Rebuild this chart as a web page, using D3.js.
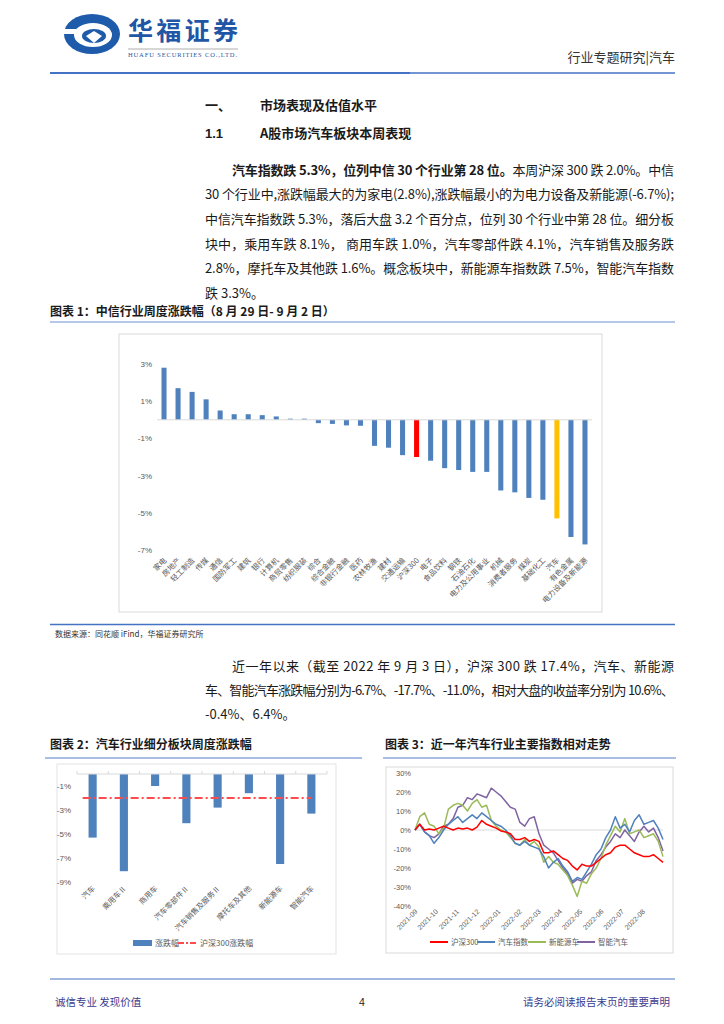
<!DOCTYPE html>
<html><head><meta charset="utf-8">
<script src="https://cdn.jsdelivr.net/npm/d3@7"></script>
<style>
html,body{margin:0;padding:0;background:#fff;}
svg{display:block;font-family:"Liberation Sans","Noto Sans CJK SC",sans-serif;}
</style></head>
<body>
<svg id="page" width="724" height="1024"></svg>
<script>
// ---------- DATA ----------
const industries = ["家电","房地产","轻工制造","传媒","通信","国防军工","建筑","银行","计算机","商贸零售","纺织服装","综合","综合金融","非银行金融","医药","农林牧渔","建材","交通运输","沪深300","电子","食品饮料","钢铁","石油石化","电力及公用事业","机械","消费者服务","煤炭","基础化工","汽车","有色金属","电力设备及新能源"];
const industryChanges = [2.8,1.7,1.5,1.1,0.5,0.3,0.3,0.25,0.18,0.06,0.06,-0.18,-0.22,-0.3,-0.32,-1.4,-1.5,-1.9,-2.0,-2.2,-2.6,-2.7,-2.8,-2.8,-3.8,-3.9,-4.2,-4.3,-5.3,-6.3,-6.7];
const industryTicks = [3,1,-1,-3,-5,-7];

const subsectors = ["汽车","乘用车Ⅱ","商用车","汽车零部件Ⅱ","汽车销售及服务Ⅱ","摩托车及其他","新能源车","智能汽车"];
const subsectorChanges = [-5.3,-8.1,-1.0,-4.1,-2.8,-1.6,-7.5,-3.3];
const hs300WeekChange = -2.0;
const subsectorTicks = [-1,-3,-5,-7,-9];

const weekDates = ["2021-09-03","2021-09-10","2021-09-17","2021-09-24","2021-10-01","2021-10-08","2021-10-15","2021-10-22","2021-10-29","2021-11-05","2021-11-12","2021-11-19","2021-11-26","2021-12-03","2021-12-10","2021-12-17","2021-12-24","2021-12-31","2022-01-07","2022-01-14","2022-01-21","2022-01-28","2022-02-04","2022-02-11","2022-02-18","2022-02-25","2022-03-04","2022-03-11","2022-03-18","2022-03-25","2022-04-01","2022-04-08","2022-04-15","2022-04-22","2022-04-29","2022-05-06","2022-05-13","2022-05-20","2022-05-27","2022-06-03","2022-06-10","2022-06-17","2022-06-24","2022-07-01","2022-07-08","2022-07-15","2022-07-22","2022-07-29","2022-08-05","2022-08-12","2022-08-19","2022-08-26","2022-09-02"];
const hs300 = [0,3,0,0.5,0,1,2,1,0,1,0.5,1,0,1.5,5,3,2,1,-0.5,-1,-2,-5,-5,-4,-6,-5,-6,-12,-12,-11,-13,-15,-16,-19,-21,-18,-19,-19,-17,-15,-13,-12,-9,-8,-8,-10,-12,-13,-14,-14,-13,-15,-17];
const autoIdx = [0,3,-1,-3,-7,-4,0,3,5,7,4,6,8,6,9,7,5,3,2,0,-3,-7,-8,-6,-8,-9,-10,-14,-20,-17,-15,-19,-22,-27,-25,-26,-22,-18,-13,-10,-4,0,7,1,3,-1,5,8,3,4,5,1,-5];
const nevIdx = [0,7,9,3,2,-2,1,11,13,14,13,10,14,16,12,13,5,2,0,-1,-4,-7,-8,-5,-8,-6,-9,-17,-14,-17,-18,-21,-24,-29,-35,-27,-28,-23,-20,-15,-8,-3,2,-1,6,-2,-1,0,-4,-3,-2,-6,-14];
const smartIdx = [0,3,-1,-3,-4,-2,2,3,6,12,13,17,16,19,18,17,22,20,18,15,12,11,4,2,6,7,-2,-8,-10,-12,-16,-20,-23,-28,-26,-27,-24,-22,-16,-13,-9,-6,-2,-4,0,-3,-6,-1,2,-1,1,-4,-11];
const seriesNames = ["沪深300","汽车指数","新能源车","智能汽车"];
const monthLabels = ["2021-09","2021-10","2021-11","2021-12","2022-01","2022-02","2022-03","2022-04","2022-05","2022-06","2022-07","2022-08"];
const trendTicks = [30,20,10,0,-10,-20,-30,-40];

// ---------- PAGE ----------
const svg = d3.select("#page");
const BLUE = "#4472C4";
const TXT = "#1a1a1a";
const CN = '"Noto Sans CJK SC","Liberation Sans",sans-serif';

// header logo
const logo = svg.append("g");
logo.append("ellipse").attr("cx",92).attr("cy",34).attr("rx",28).attr("ry",20).attr("fill","#1E5BAA");
logo.append("ellipse").attr("cx",93).attr("cy",35).attr("rx",19).attr("ry",12).attr("fill","#fff");
logo.append("ellipse").attr("cx",94).attr("cy",36).attr("rx",12).attr("ry",7).attr("fill","#1E5BAA");
logo.append("path").attr("d","M86,36 L94,43 L102,36 L94,31 Z").attr("fill","#fff");
logo.append("rect").attr("x",64).attr("y",29).attr("width",12).attr("height",5).attr("fill","#fff");
svg.append("text").attr("x",128).attr("y",40).attr("font-family",CN).attr("font-weight","bold")
  .attr("font-size",25).attr("fill","#1F56A5").attr("textLength",110).text("华福证券");
svg.append("line").attr("x1",128).attr("x2",238).attr("y1",49).attr("y2",49).attr("stroke","#999").attr("stroke-width",0.8);
svg.append("text").attr("x",128).attr("y",57).attr("font-family","Liberation Serif").attr("font-size",6.5)
  .attr("fill","#1F56A5").attr("textLength",109).text("HUAFU SECURITIES CO.,LTD.");
svg.append("text").attr("x",675).attr("y",62).attr("text-anchor","end").attr("font-family",CN)
  .attr("font-size",13).attr("fill","#333").text("行业专题研究|汽车");
svg.append("line").attr("x1",50).attr("x2",410).attr("y1",73).attr("y2",73).attr("stroke",BLUE).attr("stroke-width",2);
svg.append("line").attr("x1",410).attr("x2",675).attr("y1",73).attr("y2",73).attr("stroke",BLUE).attr("stroke-width",1.3);

// headings
function txt(x,y,s,opt={}){
  const t = svg.append("text").attr("x",x).attr("y",y).attr("font-family",opt.family||CN)
    .attr("font-size",opt.size||13).attr("fill",opt.fill||TXT);
  if(opt.bold) t.attr("font-weight","bold");
  if(opt.anchor) t.attr("text-anchor",opt.anchor);
  if(opt.len) t.attr("textLength",opt.len).attr("lengthAdjust","spacing");
  t.text(s); return t;
}
txt(205,110,"一、",{bold:true});
txt(260,110,"市场表现及估值水平",{bold:true});
txt(205,138,"1.1",{bold:true,family:"Liberation Sans"});
txt(260,138,"A股市场汽车板块本周表现",{bold:true});

// paragraph 1
const l1 = svg.append("text").attr("x",232).attr("y",175).attr("font-family",CN).attr("font-size",13)
  .attr("fill",TXT).attr("textLength",442).attr("lengthAdjust","spacing");
l1.append("tspan").attr("font-weight","bold").text("汽车指数跌 5.3%，位列中信 30 个行业第 28 位。");
l1.append("tspan").text("本周沪深 300 跌 2.0%。中信");
txt(205,199,"30 个行业中,涨跌幅最大的为家电(2.8%),涨跌幅最小的为电力设备及新能源(-6.7%);",{len:469});
txt(205,224,"中信汽车指数跌 5.3%，落后大盘 3.2 个百分点，位列 30 个行业中第 28 位。细分板",{len:469});
txt(205,249,"块中，乘用车跌 8.1%， 商用车跌 1.0%，汽车零部件跌 4.1%，汽车销售及服务跌",{len:469});
txt(205,273,"2.8%，摩托车及其他跌 1.6%。概念板块中，新能源车指数跌 7.5%，智能汽车指数",{len:469});
txt(205,298,"跌 3.3%。");

// figure 1 title
txt(50,316,"图表 1：中信行业周度涨跌幅（8 月 29 日- 9 月 2 日）",{bold:true,size:12});
svg.append("line").attr("x1",50).attr("x2",675).attr("y1",322).attr("y2",322).attr("stroke","#9DB5E0").attr("stroke-width",1.5);

// ---------- CHART 1 ----------
svg.append("rect").attr("x",119).attr("y",334).attr("width",483).attr("height",278)
  .attr("fill","none").attr("stroke","#D9D9D9");
const x1 = d3.scaleBand().domain(industries).range([157,592]).paddingInner(0.64).paddingOuter(0.32);
const y1 = d3.scaleLinear().domain([-7,3]).range([550,364]);
const g1 = svg.append("g");
g1.selectAll("rect.bar").data(industries).join("rect")
  .attr("x",d=>x1(d)).attr("width",x1.bandwidth())
  .attr("y",(d,i)=>y1(Math.max(0,industryChanges[i])))
  .attr("height",(d,i)=>Math.abs(y1(industryChanges[i])-y1(0)))
  .attr("fill",d=>d==="沪深300"?"#FF0000":(d==="汽车"?"#FFC000":"#4F81BD"));
g1.append("line").attr("x1",157).attr("x2",592).attr("y1",y1(0)).attr("y2",y1(0)).attr("stroke","#D9D9D9");
g1.selectAll("text.yt").data(industryTicks).join("text")
  .attr("x",152).attr("y",d=>y1(d)+3).attr("text-anchor","end").attr("font-size",8).attr("fill","#595959")
  .text(d=>d+"%");
g1.selectAll("text.xl").data(industries).join("text")
  .attr("font-family",CN).attr("font-size",7.5).attr("fill","#595959").attr("text-anchor","end")
  .attr("transform",d=>`translate(${x1(d)+x1.bandwidth()/2+3},${561}) rotate(-45)`)
  .text(d=>d);

// line + source
svg.append("line").attr("x1",50).attr("x2",675).attr("y1",624.5).attr("y2",624.5).attr("stroke",BLUE).attr("stroke-width",1.5);
txt(55,637,"数据来源：同花顺 iFind，华福证券研究所",{size:8,fill:"#333"});

// paragraph 2
txt(232,671,"近一年以来（截至 2022 年 9 月 3 日），沪深 300 跌 17.4%，汽车、新能源",{len:442});
txt(205,695,"车、智能汽车涨跌幅分别为-6.7%、-17.7%、-11.0%，相对大盘的收益率分别为 10.6%、",{len:469});
txt(205,719,"-0.4%、6.4%。");

// figure 2/3 titles
txt(50,749,"图表 2：汽车行业细分板块周度涨跌幅",{bold:true,size:12});
txt(385,749,"图表 3：近一年汽车行业主要指数相对走势",{bold:true,size:12});
svg.append("line").attr("x1",45).attr("x2",362).attr("y1",758).attr("y2",758).attr("stroke","#8EA9DB").attr("stroke-width",1.5);
svg.append("line").attr("x1",383).attr("x2",676).attr("y1",758).attr("y2",758).attr("stroke","#8EA9DB").attr("stroke-width",1.5);

// ---------- CHART 2 ----------
svg.append("rect").attr("x",57).attr("y",764).attr("width",279).attr("height",190)
  .attr("fill","none").attr("stroke","#E3E3E3");
const x2 = d3.scaleBand().domain(subsectors).range([77,327]).paddingInner(0.74).paddingOuter(0.37);
const y2 = d3.scaleLinear().domain([-9,0]).range([882,774]);
const g2 = svg.append("g");
g2.selectAll("rect").data(subsectors).join("rect")
  .attr("x",d=>x2(d)).attr("width",x2.bandwidth()).attr("y",y2(0))
  .attr("height",(d,i)=>y2(subsectorChanges[i])-y2(0)).attr("fill","#4F81BD");
g2.append("line").attr("x1",77).attr("x2",327).attr("y1",y2(0)).attr("y2",y2(0)).attr("stroke","#D9D9D9");
const bounds2 = subsectors.map(d=>x2(d)-x2.step()*x2.paddingInner()/2).concat([327]);
g2.selectAll("line.tk").data(bounds2).join("line").attr("class","tk")
  .attr("x1",d=>d).attr("x2",d=>d).attr("y1",y2(0)).attr("y2",y2(0)-3).attr("stroke","#D9D9D9");
g2.selectAll("text.yt").data(subsectorTicks).join("text")
  .attr("x",71).attr("y",d=>y2(d)+3).attr("text-anchor","end").attr("font-size",8).attr("fill","#595959")
  .text(d=>d+"%");
const refX0 = x2(subsectors[0]) + x2.bandwidth()/2 - 10;
const refX1 = x2(subsectors[subsectors.length-1]) + x2.bandwidth()/2;
g2.append("line").attr("x1",refX0).attr("x2",refX1).attr("y1",y2(hs300WeekChange)).attr("y2",y2(hs300WeekChange))
  .attr("stroke","#FF4B4B").attr("stroke-width",2).attr("stroke-dasharray","8,3,2,3");
g2.selectAll("text.xl").data(subsectors).join("text")
  .attr("font-family",CN).attr("font-size",7.5).attr("fill","#595959").attr("text-anchor","end")
  .attr("transform",d=>`translate(${x2(d)+x2.bandwidth()/2+3},${889}) rotate(-45)`)
  .text(d=>d);
// legend 2
g2.append("rect").attr("x",133).attr("y",940).attr("width",19).attr("height",6).attr("fill","#4F81BD");
g2.append("text").attr("x",155).attr("y",946).attr("font-family",CN).attr("font-size",8).attr("fill","#595959").text("涨跌幅");
g2.append("line").attr("x1",178).attr("x2",197).attr("y1",943).attr("y2",943).attr("stroke","#FF4B4B").attr("stroke-width",2).attr("stroke-dasharray","6,2,2,2");
g2.append("text").attr("x",200).attr("y",946).attr("font-family",CN).attr("font-size",8).attr("fill","#595959").text("沪深300涨跌幅");

// ---------- CHART 3 ----------
svg.append("rect").attr("x",386).attr("y",767).attr("width",287).attr("height",186)
  .attr("fill","none").attr("stroke","#D9D9D9");
const parse = d3.timeParse("%Y-%m-%d");
const dates = weekDates.map(parse);
const x3 = d3.scaleTime().domain([dates[0],dates[dates.length-1]]).range([415,663]);
const y3 = d3.scaleLinear().domain([-40,30]).range([906,773]);
const g3 = svg.append("g");
g3.append("line").attr("x1",415).attr("x2",663).attr("y1",y3(0)).attr("y2",y3(0)).attr("stroke","#D9D9D9");
g3.selectAll("text.yt").data(trendTicks).join("text")
  .attr("x",411).attr("y",d=>y3(d)+3).attr("text-anchor","end").attr("font-size",7.5).attr("fill","#595959")
  .text(d=>d+"%");
g3.selectAll("text.xl").data(monthLabels).join("text")
  .attr("font-size",7).attr("fill","#595959").attr("text-anchor","end")
  .attr("transform",(d,i)=>`translate(${x3(d3.timeMonth.offset(dates[0],i))+3},${912}) rotate(-45)`)
  .text(d=>d);
const seriesVals = [hs300,autoIdx,nevIdx,smartIdx];
const seriesColors = ["#FF0000","#4F81BD","#9BBB59","#8064A2"];
const lineGen = d3.line().x((d,i)=>x3(dates[i])).y(d=>y3(d));
[3,2,1,0].forEach(k=>{
  g3.append("path").attr("d",lineGen(seriesVals[k])).attr("fill","none")
    .attr("stroke",seriesColors[k]).attr("stroke-width",1.5).attr("stroke-linejoin","round");
});
const legX = [430,477,528,577];
seriesNames.forEach((n,k)=>{
  g3.append("line").attr("x1",legX[k]).attr("x2",legX[k]+18).attr("y1",942).attr("y2",942)
    .attr("stroke",seriesColors[k]).attr("stroke-width",2);
  g3.append("text").attr("x",legX[k]+21).attr("y",945).attr("font-family",CN).attr("font-size",7.5)
    .attr("fill","#595959").text(n);
});

// footer
svg.append("line").attr("x1",50).attr("x2",675).attr("y1",979).attr("y2",979).attr("stroke",BLUE).attr("stroke-width",1.2);
txt(55,1006,"诚信专业  发现价值",{size:10.5,fill:"#3B3B8F"});
txt(362,1006,"4",{size:10.5,fill:"#222",anchor:"middle",family:"Liberation Sans"});
txt(670,1006,"请务必阅读报告末页的重要声明",{size:10.5,fill:"#3B3B8F",anchor:"end"});
</script>
</body></html>
